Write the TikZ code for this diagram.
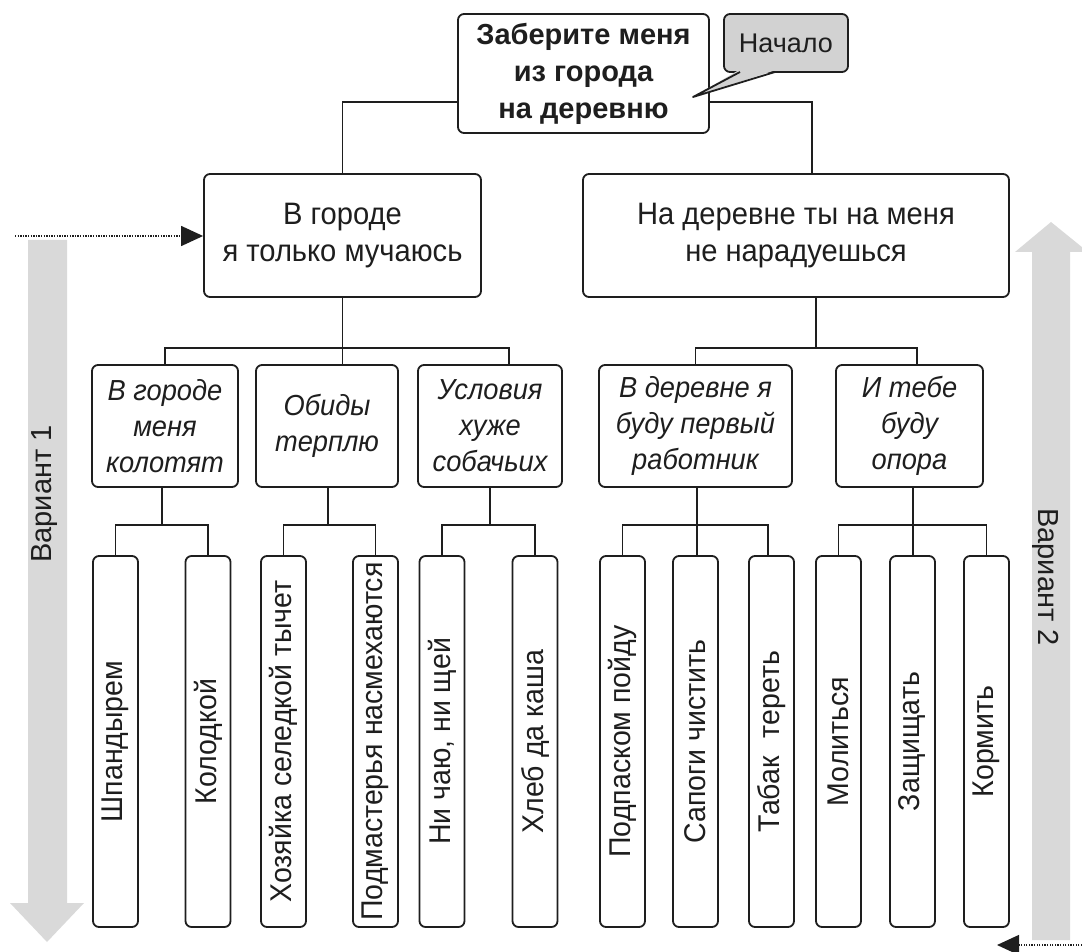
\documentclass[tikz,border=0pt]{standalone}
\usepackage{fontspec}
\setmainfont{Liberation Sans}
\newfontfamily\condfont{Liberation Sans}[FakeStretch=0.94]
\newfontfamily\leaffont{Liberation Sans}[FakeStretch=0.95]
\usetikzlibrary{arrows.meta}
\definecolor{ink}{HTML}{1E1E1E}
\definecolor{arrowgray}{HTML}{D9D9D9}
\definecolor{calloutgray}{HTML}{D2D2D2}
\begin{document}
\begin{tikzpicture}[x=1pt,y=-1pt,
  box/.style={draw=ink, line width=1.8pt, rounded corners=6pt, fill=white, text=ink, align=center, inner sep=0pt},
  topbox/.style={box, minimum width=251pt, minimum height=119pt, font=\fontsize{29}{37}\selectfont\bfseries},
  callbox/.style={box, fill=calloutgray, minimum width=124pt, minimum height=58pt, font=\fontsize{27}{32}\selectfont},
  midbox/.style={box, minimum height=123pt, font=\condfont\fontsize{31}{37}\selectfont},
  subbox/.style={box, minimum height=122pt, font=\condfont\fontsize{29}{36}\selectfont\itshape},
  leaf/.style={box, rotate=90, minimum width=371pt, minimum height=45pt, font=\leaffont\fontsize{30}{36}\selectfont},
  conn/.style={draw=ink, line width=1.8pt},
  dotarrow/.style={draw=ink, line width=1.4pt, dash pattern=on 1.3pt off 1.3pt, -{Triangle[length=22pt,width=20pt]}},
  lab/.style={text=ink, inner sep=0pt, font=\fontsize{29}{34}\selectfont}
]
\useasboundingbox (0,0) rectangle (1082,952);

% big gray arrows
\fill[arrowgray] (28,240) -- (67,240) -- (67,903) -- (84,903) -- (47,942) -- (10,903) -- (28,903) -- cycle;
\fill[arrowgray] (1032,940) -- (1070,940) -- (1070,252) -- (1088,252) -- (1051,222) -- (1015,252) -- (1032,252) -- cycle;
\node[lab, rotate=90] (v1) at (45,494) {Вариант 1};
\node[lab, rotate=-90] (v2) at (1046,577) {Вариант 2};

% top
\node[topbox] (T) at (583.5,73.5) {Заберите меня\\из города\\на деревню};
\node[callbox] (S) at (786,43) {Начало};
\fill[calloutgray] (739,70) -- (693,97) -- (776,70) -- cycle;
\draw[ink, line width=1.8pt, line join=round] (740,72) -- (693,97) -- (775,72);

% level 1
\node[midbox, minimum width=277pt] (L1) at (342.5,235.5) {В городе\\я только мучаюсь};
\node[midbox, minimum width=426pt] (R1) at (796,235.5) {На деревне ты на меня\\не нарадуешься};
\draw[conn] (T.west |- 0,102) -| (L1.north);
\draw[conn] (T.east |- 0,102) -| (R1.north -| 812,0);

% level 2
\node[subbox, minimum width=146pt] (A) at (165,426) {В городе\\меня\\колотят};
\node[subbox, minimum width=142pt] (B) at (327,426) {Обиды\\терплю};
\node[subbox, minimum width=144pt] (C) at (490,426) {Условия\\хуже\\собачьих};
\node[subbox, minimum width=193pt] (D) at (695.5,426) {В деревне я\\буду первый\\работник};
\node[subbox, minimum width=147pt] (E) at (909.5,426) {И тебе\\буду\\опора};

\draw[conn] (L1.south) -- (L1.south |- 0,348) coordinate (j1);
\draw[conn] (A.north) |- (j1) -| (C.north -| 509,0);
\draw[conn] (j1) -- (j1 |- B.north);
\draw[conn] (R1.south -| 816,0) -- (816,348) coordinate (j2);
\draw[conn] (D.north) |- (j2) -| (E.north -| 917,0);

% level 3
\node[leaf] (l1) at (115.5,741.5) {Шпандырем};
\node[leaf] (l2) at (208,741.5) {Колодкой};
\node[leaf] (l3) at (283.5,741.5) {Хозяйка селедкой тычет};
\node[leaf] (l4) at (375.5,741.5) {Подмастерья насмехаются};
\node[leaf] (l5) at (442,741.5) {Ни чаю, ни щей};
\node[leaf] (l6) at (535,741.5) {Хлеб да каша};
\node[leaf] (l7) at (622.5,741.5) {Подпаском пойду};
\node[leaf] (l8) at (695.5,741.5) {Сапоги чистить};
\node[leaf] (l9) at (771.5,741.5) {Табак\hspace{0.6em}тереть};
\node[leaf] (l10) at (838.5,741.5) {Молиться};
\node[leaf] (l11) at (912.5,741.5) {Защищать};
\node[leaf] (l12) at (986.5,741.5) {Кормить};

\draw[conn] (A.south -| 162,0) -- (162,525) coordinate (ja);
\draw[conn] (l1.east) |- (ja) -| (l2.east);
\draw[conn] (B.south -| 328,0) -- (328,525) coordinate (jb);
\draw[conn] (l3.east) |- (jb) -| (l4.east);
\draw[conn] (C.south) -- (C.south |- 0,525) coordinate (jc);
\draw[conn] (l5.east) |- (jc) -| (l6.east);
\draw[conn] (D.south -| 697,0) -- (697,525) coordinate (jd);
\draw[conn] (l7.east) |- (jd) -| (l9.east -| 768,0);
\draw[conn] (jd) -- (jd |- l8.east);
\draw[conn] (E.south -| 913,0) -- (913,525) coordinate (je);
\draw[conn] (l10.east) |- (je) -| (l12.east);
\draw[conn] (je) -- (je |- l11.east);

% dotted arrows
\coordinate (d1) at (15,236);
\draw[dotarrow] (d1) -- (L1.west |- d1);
\coordinate (d2s) at (1082,945);
\coordinate (d2e) at (997,945);
\draw[dotarrow] (d2s) -- (d2e);
\end{tikzpicture}
\end{document}
